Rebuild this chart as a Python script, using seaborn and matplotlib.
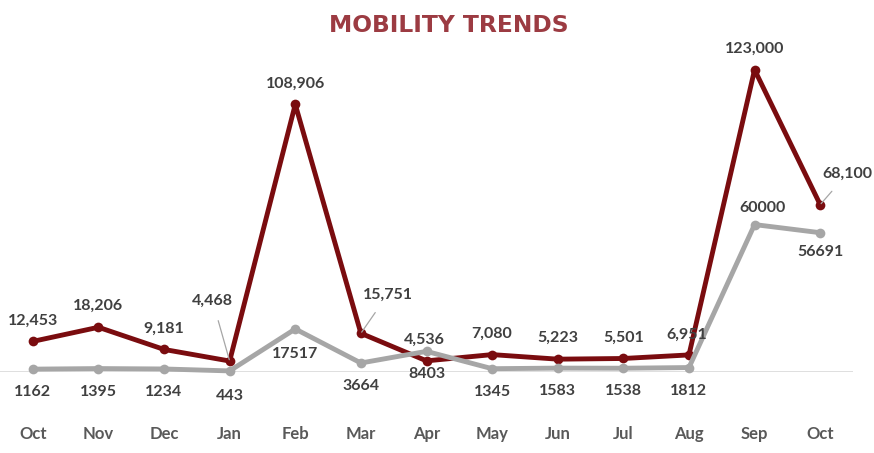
import numpy as np
import pandas as pd
import seaborn as sns
from matplotlib import pyplot as plt

months = ["Oct", "Nov", "Dec", "Jan", "Feb", "Mar", "Apr",
          "May", "Jun", "Jul", "Aug", "Sep", "Oct"]
series_red = [12453, 18206, 9181, 4468, 108906, 15751, 4536,
              7080, 5223, 5501, 6951, 123000, 68100]
series_gray = [1162, 1395, 1234, 443, 17517, 3664, 8403,
               1345, 1583, 1538, 1812, 60000, 56691]

RED = "#7a0c0f"
GRAY = "#a6a6a6"
LABEL = "#404040"

sns.set_style("white")
plt.rcParams["font.family"] = ["Lato", "DejaVu Sans"]

df = pd.DataFrame({
    "pos": list(range(len(months))) * 2,
    "value": series_red + series_gray,
    "series": ["red"] * len(months) + ["gray"] * len(months),
})

fig = plt.figure(figsize=(8.74, 4.53), dpi=100)
ax = fig.add_axes([0, 1 - 372 / 453, 853 / 874, 344 / 453])

ax.axhline(0, color="#d9d9d9", lw=1.2, zorder=1)

for name, color, z in [("red", RED, 3), ("gray", GRAY, 4)]:
    sub = df[df["series"] == name]
    sns.lineplot(data=sub, x="pos", y="value", color=color, lw=3.5,
                 marker="o", markersize=7, markeredgewidth=0,
                 ax=ax, zorder=z, clip_on=False, legend=False)

# label offsets in pixels (dx, dy), positive dy = up
red_off = {i: (0, 21) for i in range(len(months))}
red_off.update({3: (-17, 60), 5: (27, 39), 6: (-2, 21), 10: (-2, 20), 12: (27, 31)})
red_lead = {3, 5, 12}
gray_off = {i: (0, -23) for i in range(len(months))}
gray_off.update({3: (0, -25), 4: (0, -25), 11: (8, 17), 12: (0, -19)})

for i, v in enumerate(series_red):
    dx, dy = red_off[i]
    kw = {}
    if i in red_lead:
        kw["arrowprops"] = dict(arrowstyle="-", color=GRAY, lw=0.9,
                                shrinkA=7, shrinkB=1)
    ax.annotate(f"{v:,}", (i, v), xytext=(dx, dy), textcoords="offset pixels",
                ha="center", va="center", fontsize=11.5, fontweight="bold",
                color=LABEL, zorder=6, annotation_clip=False, **kw)

for i, v in enumerate(series_gray):
    dx, dy = gray_off[i]
    ax.annotate(f"{v}", (i, v), xytext=(dx, dy), textcoords="offset pixels",
                ha="center", va="center", fontsize=11.5, fontweight="bold",
                color=LABEL, zorder=6, annotation_clip=False)

ax.set_xlim(-0.5, len(months) - 0.5)
ax.set_ylim(0, 140000)
ax.set_xticks(range(len(months)))
ax.set_xticklabels(months, fontsize=12, fontweight="bold", color="#595959")
ax.tick_params(axis="x", length=0, pad=39)
ax.set_yticks([])
ax.set_xlabel("")
ax.set_ylabel("")
for s in ax.spines.values():
    s.set_visible(False)

fig.text(449 / 874, 1 - 25 / 453, "MOBILITY TRENDS", ha="center", va="center",
         fontsize=16.8, fontweight="bold", color="#9c3b42",
         family=["DejaVu Sans"])

fig.savefig("out.png", dpi=100)
